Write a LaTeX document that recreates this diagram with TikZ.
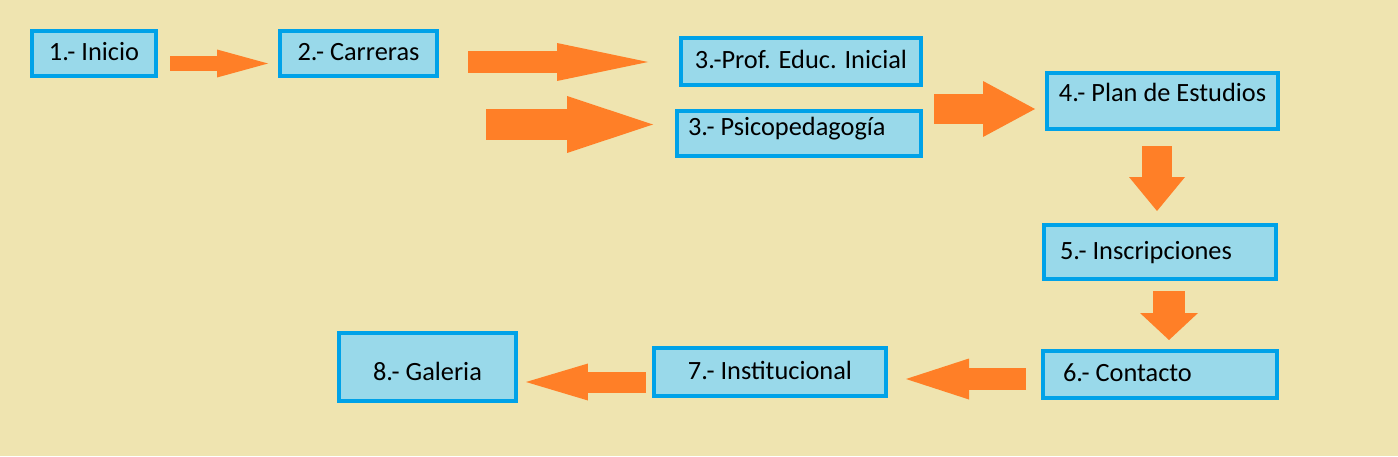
\documentclass[tikz,border=0pt]{standalone}
\usepackage{fontspec}
\setmainfont{Carlito}
\usetikzlibrary{arrows.meta}
\definecolor{paper}{RGB}{239,228,176}
\definecolor{boxfill}{RGB}{153,217,234}
\definecolor{boxline}{RGB}{0,162,232}
\definecolor{flow}{RGB}{255,127,39}

\begin{document}
\begin{tikzpicture}[x=0.02cm,y=-0.02cm,
  box/.style={rectangle,draw=boxline,fill=boxfill,line width=0.08cm,inner ysep=0pt,
    text height=11pt,text depth=2.5pt,font=\fontsize{15}{18}\selectfont},
  flow/.style={draw=flow,line cap=butt}]
\fill [paper] (0,0) rectangle (1398,456);
\useasboundingbox (0,0) rectangle (1398,456);
\node (inicio)   at (94,53.5)    [box,minimum width=2.48cm,minimum height=0.90cm] {1.- Inicio};
\node (carreras) at (358.5,53.5) [box,minimum width=3.14cm,minimum height=0.90cm] {2.- Carreras};
\node (inicial)  at (801,61.5)   [box,minimum width=4.80cm,minimum height=0.94cm] {3.-Prof. Educ. Inicial};
\node (psico)    at (799,133.5)  [box,minimum height=0.90cm,text width=4.44cm,inner xsep=0.22cm,align=flush left,text depth=8.5pt] {3.- Psicopedagogía};
\node (plan)     at (1162.5,101) [box,minimum width=4.62cm,minimum height=1.12cm,text depth=10pt] {4.- Plan de Estudios};
\node (inscrip)  at (1160,252)   [box,minimum height=1.08cm,text width=4.00cm,inner xsep=0.32cm,align=flush left] {5.- Inscripciones};
\node (contacto) at (1160,374.5) [box,minimum height=0.94cm,text width=3.88cm,inner xsep=0.40cm,align=flush left] {6.- Contacto};
\node (instit)   at (770,372)    [box,minimum width=4.64cm,minimum height=0.96cm] {7.- Institucional};
\node (galeria)  at (427.5,367)  [box,minimum width=3.54cm,minimum height=1.36cm,text height=17.5pt] {8.- Galeria};
% free ends of the block arrows
\coordinate (from1) at (170,63.5);  \coordinate (to1) at (268,63.5);
\coordinate (from2) at (468,62);    \coordinate (to2) at (648,62);
\coordinate (from3) at (486,124.5); \coordinate (to3) at (653,124.5);
\coordinate (from4) at (934,109);   \coordinate (to4) at (1035,109);
\coordinate (from5) at (1157,146);  \coordinate (to5) at (1157,211);
\coordinate (from6) at (1169,291);  \coordinate (to6) at (1169,340);
\coordinate (from7) at (1026,379);  \coordinate (to7) at (906,379);
\coordinate (from8) at (646,382);   \coordinate (to8) at (526,382);
\draw [flow,line width=0.32cm,-{Triangle[length=1.02cm,width=0.56cm,line width=0pt]}] (from1) -- (to1);
\draw [flow,line width=0.44cm,-{Triangle[length=1.82cm,width=0.76cm,line width=0pt]}] (from2) -- (to2);
\draw [flow,line width=0.62cm,-{Triangle[length=1.72cm,width=1.14cm,line width=0pt]}] (from3) -- (to3);
\draw [flow,line width=0.60cm,-{Triangle[length=1.04cm,width=1.12cm,line width=0pt]}] (from4) -- (to4);
\draw [flow,line width=0.60cm,-{Triangle[length=0.68cm,width=1.12cm,line width=0pt]}] (from5) -- (to5);
\draw [flow,line width=0.64cm,-{Triangle[length=0.54cm,width=1.16cm,line width=0pt]}] (from6) -- (to6);
\draw [flow,line width=0.44cm,-{Triangle[length=1.26cm,width=0.82cm,line width=0pt]}] (from7) -- (to7);
\draw [flow,line width=0.42cm,-{Triangle[length=1.24cm,width=0.74cm,line width=0pt]}] (from8) -- (to8);
\end{tikzpicture}
\end{document}
